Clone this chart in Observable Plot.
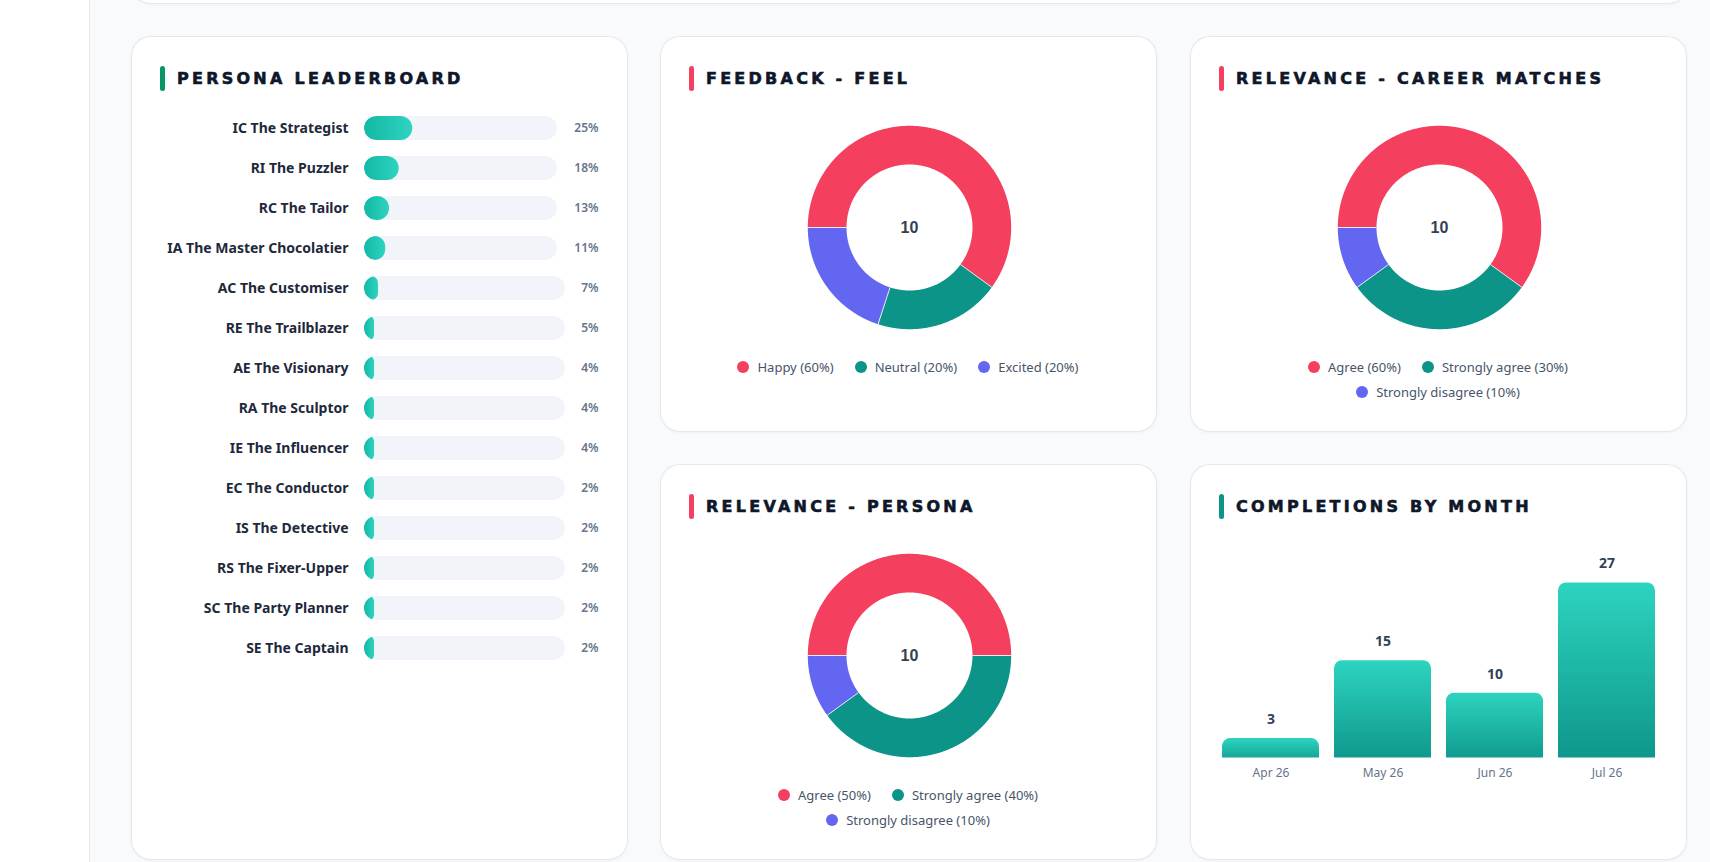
<!DOCTYPE html>
<html>
<head>
<meta charset="utf-8">
<script src="https://cdn.jsdelivr.net/npm/d3@7"></script>
<script src="https://cdn.jsdelivr.net/npm/@observablehq/plot@0.6"></script>
<style>
html, body { margin: 0; padding: 0; }
body { width: 1710px; height: 862px; overflow: hidden; background: #f8fafc; position: relative; font-family: "Noto Sans", sans-serif; }
.sidebar { position: absolute; left: 0; top: 0; width: 89px; height: 862px; background: #fff; border-right: 1px solid #e2e8f0; }
.card { position: absolute; background: #fff; border-radius: 20px; box-shadow: inset 0 0 0 1px #e2e8f0, 0 1px 3px rgba(15,23,42,0.04); }
.accent { position: absolute; left: 29px; top: 30px; width: 5px; height: 25px; border-radius: 3px; }
.title { position: absolute; left: 46px; top: 30px; height: 25px; line-height: 25px; font-family: "DejaVu Sans", sans-serif; font-weight: bold; font-size: 16px; letter-spacing: 3.25px; color: #0f172a; -webkit-text-stroke: 0.6px #0f172a; white-space: nowrap; }
.chart { position: absolute; }
.chart svg { display: block; overflow: visible; }
.legend { position: absolute; left: 48px; width: 400px; top: 318px; display: flex; flex-wrap: wrap; justify-content: center; column-gap: 21px; }
.legend .item { display: flex; align-items: center; height: 25px; font-size: 13px; color: #475569; white-space: nowrap; }
.legend .dot { width: 12px; height: 12px; border-radius: 50%; margin-right: 8px; }
</style>
</head>
<body>
<div class="sidebar"></div>
<div class="card" style="left:131px; top:-100px; width:1557px; height:104px;"></div>

<div class="card" id="lb" style="left:131px; top:36px; width:497px; height:824px;">
  <div class="accent" style="background:#059669"></div>
  <div class="title">PERSONA LEADERBOARD</div>
</div>
<div class="card" id="feel" style="left:660px; top:36px; width:497px; height:396px;">
  <div class="accent" style="background:#f43f5e"></div>
  <div class="title">FEEDBACK - FEEL</div>
</div>
<div class="card" id="career" style="left:1190px; top:36px; width:497px; height:396px;">
  <div class="accent" style="background:#f43f5e"></div>
  <div class="title">RELEVANCE - CAREER MATCHES</div>
</div>
<div class="card" id="persona" style="left:660px; top:464px; width:497px; height:396px;">
  <div class="accent" style="background:#f43f5e"></div>
  <div class="title">RELEVANCE - PERSONA</div>
</div>
<div class="card" id="months" style="left:1190px; top:464px; width:497px; height:396px;">
  <div class="accent" style="background:#0d9488"></div>
  <div class="title">COMPLETIONS BY MONTH</div>
</div>

<script>
// ---------- DATA ----------
const personaNames = [
  "IC The Strategist", "RI The Puzzler", "RC The Tailor", "IA The Master Chocolatier",
  "AC The Customiser", "RE The Trailblazer", "AE The Visionary", "RA The Sculptor",
  "IE The Influencer", "EC The Conductor", "IS The Detective", "RS The Fixer-Upper",
  "SC The Party Planner", "SE The Captain"
];
const personaPct = [25, 18, 13, 11, 7, 5, 4, 4, 4, 2, 2, 2, 2, 2];

const feelLabels = ["Happy", "Neutral", "Excited"];
const feelCounts = [6, 2, 2];

const careerLabels = ["Agree", "Strongly agree", "Strongly disagree"];
const careerCounts = [6, 3, 1];

const personaRelLabels = ["Agree", "Strongly agree", "Strongly disagree"];
const personaRelCounts = [5, 4, 1];

const monthLabels = ["Apr 26", "May 26", "Jun 26", "Jul 26"];
const monthCounts = [3, 15, 10, 27];

const sliceColors = ["#f43f5e", "#0d9488", "#6366f1"];

// ---------- HELPERS ----------
function place(cardId, node, left, top) {
  const wrap = document.createElement("div");
  wrap.className = "chart";
  wrap.style.left = left + "px";
  wrap.style.top = top + "px";
  wrap.appendChild(node);
  document.getElementById(cardId).appendChild(wrap);
}
function addDefs(svg, html) {
  const ns = "http://www.w3.org/2000/svg";
  const defs = document.createElementNS(ns, "defs");
  defs.innerHTML = html;
  svg.insertBefore(defs, svg.firstChild);
}

// ---------- LEADERBOARD ----------
const lbData = personaNames.map((name, i) => ({
  name,
  pct: personaPct[i],
  label: personaPct[i] + "%",
  // track shrinks as the percentage label gets wider
  trackEnd: 100 - (String(personaPct[i]).length - 1) * 4
}));
const lbPlot = Plot.plot({
  width: 497, height: 660,
  marginTop: 72.3, marginBottom: 27.7, marginLeft: 233, marginRight: 63,
  x: { domain: [0, 100], axis: null },
  y: { domain: personaNames, padding: 0, axis: null },
  marks: [
    Plot.barX(lbData, { x1: 0, x2: "trackEnd", y: "name", fill: "#f1f5f9", rx: 12, insetTop: 8, insetBottom: 8 }),
    Plot.barX(lbData, { x1: 0, x2: d => Math.max(d.pct, 5) * d.trackEnd / 100, y: "name", fill: "url(#lbGrad)", insetTop: 8, insetBottom: 8 }),
    Plot.text(lbData, { x: 0, y: "name", text: "name", textAnchor: "end", dx: -16, fontFamily: "Noto Sans", fontSize: 14, fontWeight: 700, fill: "#1e293b" }),
    Plot.text(lbData, { x: 100, y: "name", text: "label", textAnchor: "end", dx: 33, fontFamily: "Noto Sans", fontSize: 12, fontWeight: 600, fill: "#64748b" })
  ]
});
addDefs(lbPlot, `<linearGradient id="lbGrad" x1="0" y1="0" x2="1" y2="0"><stop offset="0" stop-color="#14b8a6"/><stop offset="1" stop-color="#2dd4bf"/></linearGradient><clipPath id="trackClip"></clipPath>`);
{
  const groups = lbPlot.querySelectorAll('g[aria-label="bar"]');
  const clip = lbPlot.querySelector("#trackClip");
  groups[0].querySelectorAll("rect").forEach(r => clip.appendChild(r.cloneNode()));
  groups[1].setAttribute("clip-path", "url(#trackClip)");
  groups[1].querySelectorAll("rect").forEach(r => {
    const w = +r.getAttribute("width");
    const rr = Math.min(12, w / 2);
    r.setAttribute("rx", rr); r.setAttribute("ry", rr);
  });
}
place("lb", lbPlot, 0, 0);

// ---------- DONUTS ----------
function donut(cardId, labels, counts) {
  const total = d3.sum(counts);
  const rOuter = 101.7, rInner = 63;
  const rMid = (rOuter + rInner) / 2;
  let start = 270; // chart starts at 9 o'clock, clockwise
  const pts = [], seps = [];
  labels.forEach((lab, i) => {
    const span = counts[i] / total * 360;
    const n = Math.max(4, Math.ceil(span * 2));
    for (let k = 0; k <= n; k++) {
      const a = (start + span * k / n) * Math.PI / 180;
      pts.push({ label: lab, x: rMid * Math.sin(a), y: rMid * Math.cos(a) });
    }
    const a0 = start * Math.PI / 180;
    seps.push({ x1: rInner * Math.sin(a0), y1: rInner * Math.cos(a0), x2: rOuter * Math.sin(a0), y2: rOuter * Math.cos(a0) });
    start += span;
  });
  const p = Plot.plot({
    width: 240, height: 240, margin: 0,
    x: { domain: [-120, 120], axis: null },
    y: { domain: [-120, 120], axis: null },
    color: { domain: labels, range: sliceColors },
    marks: [
      Plot.line(pts, { x: "x", y: "y", z: "label", stroke: "label", strokeWidth: rOuter - rInner, strokeLinecap: "butt", strokeLinejoin: "round" }),
      Plot.link(seps, { x1: "x1", y1: "y1", x2: "x2", y2: "y2", stroke: "#ffffff", strokeWidth: 1, strokeOpacity: 0.8 }),
      Plot.text([total], { frameAnchor: "middle", text: d => String(d), fontFamily: "Liberation Sans", fontWeight: "bold", fontSize: 16, fill: "#334155" })
    ]
  });
  place(cardId, p, 128.5, 70.8);
  const leg = document.createElement("div");
  leg.className = "legend";
  labels.forEach((lab, i) => {
    const item = document.createElement("div");
    item.className = "item";
    const dot = document.createElement("span");
    dot.className = "dot";
    dot.style.background = sliceColors[i];
    item.appendChild(dot);
    item.appendChild(document.createTextNode(`${lab} (${Math.round(counts[i] / total * 100)}%)`));
    leg.appendChild(item);
  });
  document.getElementById(cardId).appendChild(leg);
}
donut("feel", feelLabels, feelCounts);
donut("career", careerLabels, careerCounts);
donut("persona", personaRelLabels, personaRelCounts);

// ---------- COMPLETIONS BY MONTH ----------
const monthData = monthLabels.map((m, i) => ({ month: m, value: monthCounts[i] }));
const barPlot = Plot.plot({
  width: 497, height: 334,
  marginTop: 99, marginBottom: 40.5, marginLeft: 22, marginRight: 23,
  x: { domain: monthLabels, paddingInner: 0.137, paddingOuter: 0.0686, axis: null },
  y: { domain: [0, 30], axis: null },
  marks: [
    Plot.barY(monthData, { x: "month", y: "value", fill: "url(#barGrad)", rx: 8, insetBottom: -8, clip: true }),
    Plot.text(monthData, { x: "month", y: "value", text: "value", dy: -19, fontFamily: "Noto Sans", fontWeight: 700, fontSize: 14, fill: "#334155" }),
    Plot.text(monthData, { x: "month", text: "month", frameAnchor: "bottom", dy: 19, fontFamily: "Noto Sans", fontSize: 12, fill: "#64748b" })
  ]
});
addDefs(barPlot, `<linearGradient id="barGrad" x1="0" y1="0" x2="0" y2="1"><stop offset="0" stop-color="#2dd4bf"/><stop offset="1" stop-color="#0d9488"/></linearGradient>`);
place("months", barPlot, 0, 0);
</script>
</body>
</html>
